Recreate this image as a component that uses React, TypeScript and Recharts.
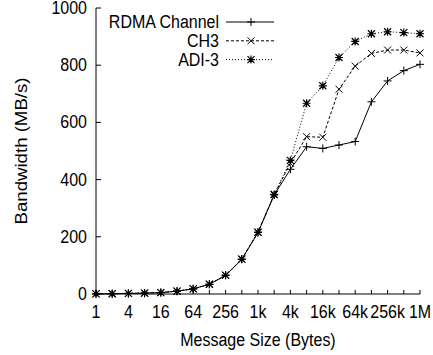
import React from 'react';
import { LineChart, Line, XAxis, YAxis } from 'recharts';

const messageSizes = ['1', '2', '4', '8', '16', '32', '64', '128', '256', '512', '1k', '2k', '4k', '8k', '16k', '32k', '64k', '128k', '256k', '512k', '1M'];
const rdmaChannel = [0.5, 1, 2, 3, 5, 10, 18, 34, 65, 121, 215, 346, 436, 515, 509, 521, 533, 672, 745, 781, 803];
const ch3 = [0.5, 1, 2, 3, 5, 10, 18, 34, 65, 122, 216, 348, 457, 550, 548, 716, 797, 841, 853, 853, 843];
const adi3 = [0.5, 1, 2, 3, 5, 10, 18, 34, 66, 122, 216, 348, 467, 667, 728, 827, 883, 910, 917, 914, 910];
const yTicks = [0, 200, 400, 600, 800, 1000];
const labeledSizes = ['1', '4', '16', '64', '256', '1k', '4k', '16k', '64k', '256k', '1M'];

const data = messageSizes.map((s, i) => ({ size: s, rdma: rdmaChannel[i], ch3: ch3[i], adi3: adi3[i] }));

const FONT = '"Liberation Sans", Arial, Helvetica, sans-serif';
const SY = 1.1;

const T = ({ x, y, anchor, children }: any) => (
  <text transform={`translate(${x},${y}) scale(1,${SY})`} x={0} y={0} textAnchor={anchor} fontSize={16} fontFamily={FONT} fill="#000">
    {children}
  </text>
);

const plusPath = (cx: number, cy: number) => `M${cx - 4},${cy}H${cx + 4}M${cx},${cy - 4}V${cy + 4}`;
const crossPath = (cx: number, cy: number) => `M${cx - 3.5},${cy - 3.5}L${cx + 3.5},${cy + 3.5}M${cx - 3.5},${cy + 3.5}L${cx + 3.5},${cy - 3.5}`;

const PlusDot = (p: any) => <path key={`p${p.index}`} d={plusPath(p.cx, p.cy)} stroke="#000" strokeWidth={1} fill="none" />;
const CrossDot = (p: any) => <path key={`c${p.index}`} d={crossPath(p.cx, p.cy)} stroke="#000" strokeWidth={1} fill="none" />;
const StarDot = (p: any) => (
  <path key={`s${p.index}`} d={plusPath(p.cx, p.cy) + crossPath(p.cx, p.cy)} stroke="#000" strokeWidth={1.2} fill="none" />
);

const BottomTick = (props: any) => {
  const { x, y, payload } = props;
  const show = labeledSizes.includes(payload.value);
  return (
    <g>
      <line x1={x} x2={x} y1={y} y2={y - 4} stroke="#000" />
      {show && <T x={x} y={y + 24} anchor="middle">{payload.value}</T>}
    </g>
  );
};

const TopTick = (props: any) => {
  const { x, y } = props;
  return <line x1={x} x2={x} y1={y} y2={y + 4} stroke="#000" />;
};

const LeftTick = (props: any) => {
  const { x, y, payload } = props;
  return (
    <g>
      <line x1={x} x2={x + 5} y1={y} y2={y} stroke="#000" />
      <T x={x - 9} y={y + 6} anchor="end">{payload.value}</T>
    </g>
  );
};

const RightTick = (props: any) => {
  const { x, y } = props;
  return <line x1={x} x2={x - 5} y1={y} y2={y} stroke="#000" />;
};

const XTitle = (props: any) => {
  const vb = props.viewBox || { x: 96, y: 294, width: 324, height: 61 };
  return <T x={vb.x + vb.width / 2} y={vb.y + 52} anchor="middle">Message Size (Bytes)</T>;
};

const YTitle = (props: any) => {
  const vb = props.viewBox || { x: 0, y: 8, width: 96, height: 286 };
  const cx = 27;
  const cy = vb.y + vb.height / 2;
  return (
    <text
      transform={`translate(${cx},${cy}) rotate(-90)`}
      x={0}
      y={0}
      textAnchor="middle"
      fontSize={16}
      fontFamily={FONT}
      fill="#000"
      textLength={147}
      lengthAdjust="spacingAndGlyphs"
    >
      Bandwidth (MB/s)
    </text>
  );
};

const legendItems = [
  { name: 'RDMA Channel', dash: undefined as string | undefined, dot: PlusDot },
  { name: 'CH3', dash: '3 2', dot: CrossDot },
  { name: 'ADI-3', dash: '1 2', dot: StarDot },
];

const LegendBox = () => (
  <svg width={433} height={355} style={{ position: 'absolute', left: 0, top: 0, pointerEvents: 'none' }}>
    {legendItems.map((it, i) => {
      const ly = 22 + i * 18.8;
      return (
        <g key={it.name}>
          <T x={219} y={ly + 6} anchor="end">{it.name}</T>
          <line x1={226} x2={274} y1={ly} y2={ly} stroke="#000" strokeDasharray={it.dash} />
          {it.dot({ cx: 251, cy: ly, index: i })}
        </g>
      );
    })}
  </svg>
);

export default function App() {
  return (
    <div style={{ position: 'absolute', left: 0, top: 0, width: 433, height: 355, background: '#fff' }}>
      <LineChart width={433} height={355} data={data} margin={{ top: 8, right: 13, bottom: 0, left: 0 }}>
        <XAxis
          dataKey="size"
          xAxisId="bottom"
          orientation="bottom"
          height={61}
          interval={0}
          tickSize={0}
          tickMargin={0}
          tickLine={false}
          tick={<BottomTick />}
          stroke="#000"
          label={<XTitle />}
        />
        <XAxis
          dataKey="size"
          xAxisId="top"
          orientation="top"
          height={0}
          interval={0}
          tickSize={0}
          tickMargin={0}
          tickLine={false}
          tick={<TopTick />}
          stroke="#000"
        />
        <YAxis
          yAxisId="left"
          orientation="left"
          width={96}
          type="number"
          domain={[0, 1000]}
          ticks={yTicks}
          interval={0}
          tickSize={0}
          tickMargin={0}
          tickLine={false}
          tick={<LeftTick />}
          stroke="#000"
          label={<YTitle />}
        />
        <YAxis
          yAxisId="right"
          orientation="right"
          width={0}
          type="number"
          domain={[0, 1000]}
          ticks={yTicks}
          interval={0}
          tickSize={0}
          tickMargin={0}
          tickLine={false}
          tick={<RightTick />}
          stroke="#000"
        />
        <Line xAxisId="bottom" yAxisId="left" dataKey="rdma" name="RDMA Channel" stroke="#000" strokeWidth={1} dot={PlusDot} isAnimationActive={false} />
        <Line xAxisId="bottom" yAxisId="left" dataKey="ch3" name="CH3" stroke="#000" strokeWidth={1} strokeDasharray="3 2" dot={CrossDot} isAnimationActive={false} />
        <Line xAxisId="bottom" yAxisId="left" dataKey="adi3" name="ADI-3" stroke="#000" strokeWidth={1} strokeDasharray="1 2" dot={StarDot} isAnimationActive={false} />
      </LineChart>
      <LegendBox />
    </div>
  );
}
